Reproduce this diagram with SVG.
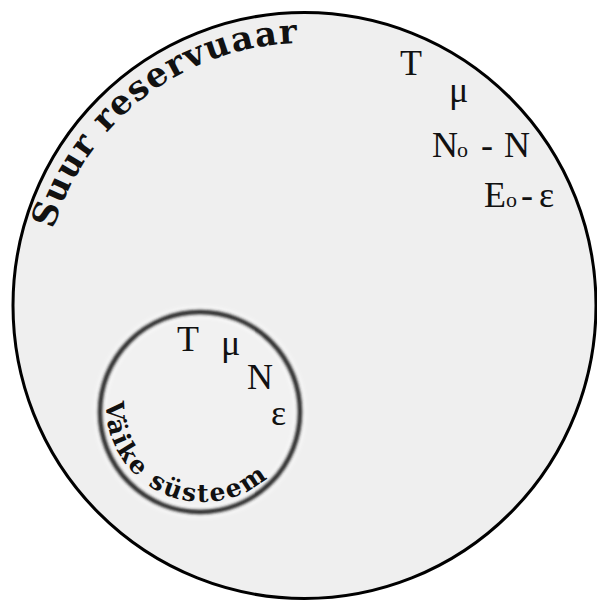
<svg xmlns="http://www.w3.org/2000/svg" width="597" height="600" viewBox="0 0 597 600">
  <style>
    .sym { font-family: "Liberation Serif", "Times New Roman", serif; font-size: 36px; fill: #111; }
    .sub { font-size: 22px; }
    .arc { font-family: "DejaVu Serif", serif; font-weight: bold; fill: #111; }
  </style>
  <defs>
    <filter id="blur" x="-20%" y="-20%" width="140%" height="140%">
      <feGaussianBlur stdDeviation="1.5"/>
    </filter>
    <filter id="blur2" x="-20%" y="-20%" width="140%" height="140%">
      <feGaussianBlur stdDeviation="2.5"/>
    </filter>
    <path id="bigArc" d="M 46 259.5 A 262 262 0 0 1 349.5 47"/>
    <path id="smallArc" d="M 106.9 391.5 A 97 97 0 0 0 287 453.5"/>
  </defs>
  <rect width="597" height="600" fill="#ffffff"/>

  <g id="reservoir">
    <ellipse cx="304.5" cy="305.5" rx="291.5" ry="293" fill="#efefef" stroke="#000" stroke-width="3"/>
    <text class="arc" font-size="34"><textPath href="#bigArc" startOffset="31" textLength="328" lengthAdjust="spacing">Suur reservuaar</textPath></text>
    <text class="sym" y="75"><tspan x="400">T</tspan></text>
    <text class="sym" y="102"><tspan x="449">μ</tspan></text>
    <text class="sym" y="157"><tspan x="432">N</tspan><tspan class="sub" x="457">o</tspan><tspan x="481">-</tspan><tspan x="504">N</tspan></text>
    <text class="sym" y="207"><tspan x="484">E</tspan><tspan class="sub" x="506">o</tspan><tspan x="521">-</tspan><tspan x="539">ε</tspan></text>
  </g>

  <g id="system">
    <circle cx="200" cy="412" r="100" fill="#f1f1f1" stroke="#ffffff" stroke-width="9" filter="url(#blur2)"/>
    <circle cx="200" cy="412" r="100" fill="none" stroke="#222" stroke-width="4.5" filter="url(#blur)"/>
    <text class="arc" font-size="25"><textPath href="#smallArc" startOffset="10" textLength="226" lengthAdjust="spacing">Väike süsteem</textPath></text>
    <text class="sym" x="177" y="351">T</text>
    <text class="sym" x="221" y="355">μ</text>
    <text class="sym" x="247" y="389">N</text>
    <text class="sym" x="271" y="425">ε</text>
  </g>

  <g id="connectors"></g>
</svg>
